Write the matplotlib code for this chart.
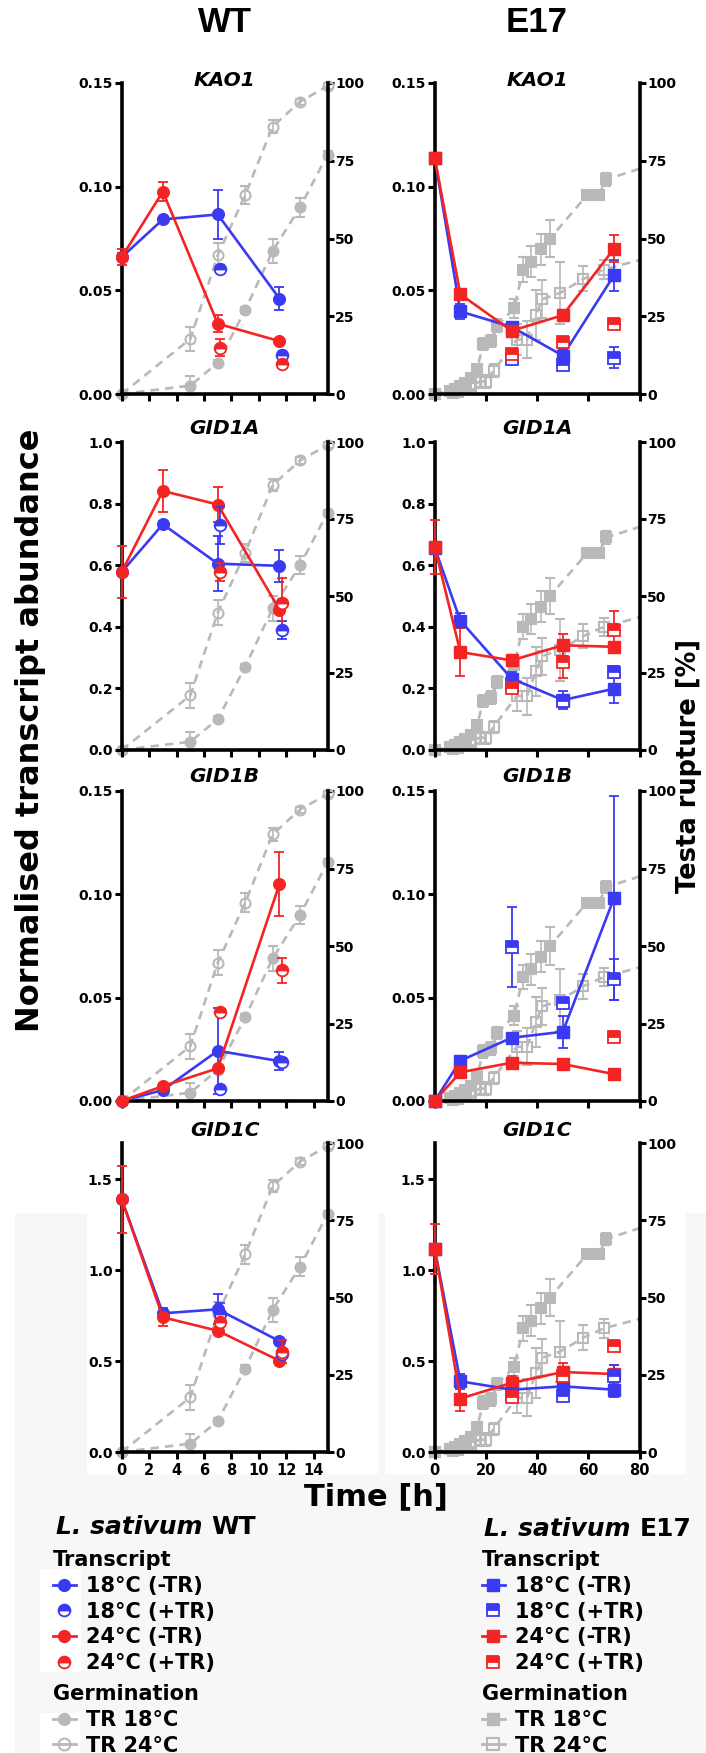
import numpy as np
import matplotlib
matplotlib.use('Agg')
import matplotlib.pyplot as plt
from matplotlib.lines import Line2D
from matplotlib.patches import Rectangle

# ---------------- data ----------------
genes = ['KAO1', 'GID1A', 'GID1B', 'GID1C']
ytop = [0.15, 1.0, 0.15, 1.7]
yticks = [[0, 0.05, 0.10, 0.15], [0, 0.2, 0.4, 0.6, 0.8, 1.0],
          [0, 0.05, 0.10, 0.15], [0, 0.5, 1.0, 1.5]]
ytick_labels = [['0.00', '0.05', '0.10', '0.15'], ['0.0', '0.2', '0.4', '0.6', '0.8', '1.0'],
                ['0.00', '0.05', '0.10', '0.15'], ['0.0', '0.5', '1.0', '1.5']]
right_ticks = [0, 25, 50, 75, 100]

# WT (time in h)
wt_t = [0, 3, 7, 11.5]
wt_t_tr = [7.2, 11.7]
wt_b_minus = [[0.066, 0.0842, 0.0866, 0.046], [0.578, 0.733, 0.605, 0.598],
              [0.0, 0.0053, 0.0243, 0.0193], [1.39, 0.763, 0.785, 0.61]]
wt_b_minus_err = [[0.002, 0.001, 0.012, 0.0055], [0.01, 0.01, 0.09, 0.052],
                  [0.0, 0.0005, 0.0207, 0.0042], [0.02, 0.03, 0.083, 0.01]]
wt_r_minus = [[0.066, 0.0976, 0.0339, 0.0255], [0.578, 0.841, 0.797, 0.456],
              [0.0, 0.0072, 0.0158, 0.105], [1.39, 0.741, 0.667, 0.502]]
wt_r_minus_err = [[0.004, 0.0045, 0.004, 0.001], [0.084, 0.068, 0.057, 0.01],
                  [0.0, 0.0005, 0.001, 0.0155], [0.185, 0.05, 0.01, 0.01]]
wt_b_plus = [[0.0605, 0.0189], [0.73, 0.389], [0.0058, 0.019], [0.76, 0.54]]
wt_b_plus_err = [[0.001, 0.001], [0.06, 0.03], [0.001, 0.002], [0.06, 0.01]]
wt_r_plus = [[0.0223, 0.0145], [0.578, 0.476], [0.043, 0.0633], [0.713, 0.551]]
wt_r_plus_err = [[0.004, 0.001], [0.03, 0.081], [0.001, 0.006], [0.01, 0.063]]

wt_germ_t = [0, 5, 7, 9, 11, 13, 15]
wt_tr18 = [0, 2.7, 10, 27, 46, 60, 77]
wt_tr18_err = [0, 3, 1, 1, 4, 3, 1]
wt_tr24 = [0, 17.7, 44.6, 64, 86, 94, 99]
wt_tr24_err = [0, 4, 4, 3, 2, 1, 1]

# E17 (time in h)
e_t = [0, 10, 30, 50, 70]
e_t_tr = [30, 50, 70]
e_b_minus = [[0.114, 0.0398, 0.0324, 0.0185, 0.0573], [0.657, 0.42, 0.232, 0.162, 0.199],
             [0.0, 0.0195, 0.0306, 0.0335, 0.0983], [1.119, 0.389, 0.343, 0.361, 0.343]]
e_b_minus_err = [[0.001, 0.0035, 0.002, 0.003, 0.0075], [0.01, 0.025, 0.02, 0.03, 0.045],
                 [0.0, 0.001, 0.001, 0.0078, 0.0495], [0.01, 0.04, 0.02, 0.02, 0.04]]
e_r_minus = [[0.114, 0.0481, 0.0305, 0.038, 0.0701], [0.66, 0.318, 0.291, 0.34, 0.335],
             [0.0, 0.0139, 0.0185, 0.0179, 0.0130], [1.119, 0.294, 0.38, 0.44, 0.429]]
e_r_minus_err = [[0.001, 0.001, 0.001, 0.002, 0.0064], [0.088, 0.077, 0.01, 0.035, 0.01],
                 [0.0, 0.0, 0.0, 0.0, 0.0], [0.138, 0.07, 0.04, 0.05, 0.05]]
e_b_plus = [[0.0168, 0.014, 0.0176], [0.215, 0.16, 0.253], [0.0746, 0.0475, 0.0588], [0.32, 0.306, 0.417]]
e_b_plus_err = [[0.001, 0.002, 0.0049], [0.02, 0.02, 0.02], [0.0192, 0.001, 0.01], [0.02, 0.02, 0.06]]
e_r_plus = [[0.0193, 0.0249, 0.0337], [0.2, 0.285, 0.388], [np.nan, np.nan, 0.031], [0.301, 0.42, 0.582]]
e_r_plus_err = [[0.001, 0.001, 0.001], [0.01, 0.05, 0.062], [0.0, 0.0, 0.001], [0.02, 0.02, 0.02]]

e_germ18_t = [0, 6, 8, 10, 12, 14, 16.5, 19, 22, 24.5, 31, 34.5, 37.5, 41.5, 45, 59.5, 64, 67, 84]
e_tr18 = [0, 1, 1.5, 2.5, 3.5, 5, 8, 16, 17, 22, 27.5, 40, 42.5, 46.5, 50, 64, 64, 69, 73.5]
e_tr18_err = [0, 0.5, 0.5, 1, 1, 1, 1.5, 2, 2, 2, 3, 4, 5, 5, 6, 1, 1, 2, 0]
e_germ24_t = [0, 7, 9, 12, 14, 17.5, 20, 23, 32, 36, 39.5, 42, 49, 58, 66, 84]
e_tr24 = [0, 0.3, 0.8, 1.5, 2.5, 4, 4, 7.5, 17.5, 17.5, 25.5, 30.5, 32.5, 37, 40, 44]
e_tr24_err = [0, 0.5, 0.5, 1, 1, 2, 2, 2, 5, 6, 8, 6, 10, 4, 3, 0]

# ---------------- style ----------------
W, H = 706, 1753
BLUE = '#3a3af2'
RED = '#f42424'
GREY = '#b9b9b9'
plt.rcParams['font.family'] = ['DejaVu Sans']
plt.rcParams['font.weight'] = 'bold'

fig = plt.figure(figsize=(W / 100, H / 100), dpi=100)
fig.patch.set_facecolor('white')


def fx(px):
    return px / W


def fy(py):
    return 1 - py / H


def rect(x0, y0, x1, y1, color):
    fig.patches.append(Rectangle((fx(x0), fy(y1)), (x1 - x0) / W, (y1 - y0) / H,
                                 transform=fig.transFigure, facecolor=color,
                                 edgecolor='none', zorder=-10))


# light grey background region of the original
rect(15, 1213, 706, 1753, '#f7f7f7')
rect(87, 1213, 378, 1474, 'white')
rect(385, 1213, 686, 1474, 'white')
rect(40, 1569, 81, 1672, 'white')
rect(40, 1713, 80, 1753, 'white')

col_left = [121.7, 434.7]
col_right = [327.5, 639.7]
row_top = [83, 442, 791, 1143]
row_bot = [394, 750, 1101, 1452]
title_gap = [3, 14, 14, 13]

SPW = 2.6


def unclip(cont):
    for a in cont.get_children():
        a.set_clip_on(False)


def panel(col, row):
    l, r = col_left[col], col_right[col]
    top, bot = row_top[row], row_bot[row]
    ax = fig.add_axes([fx(l), fy(bot), (r - l) / W, (bot - top) / H])
    ax2 = ax.twinx()
    ax.set_zorder(ax2.get_zorder() + 1)
    ax.patch.set_visible(False)
    ax2.patch.set_visible(False)

    if col == 0:
        xmax, xt = 15, np.arange(0, 15, 2)
        mk = 'o'
        t, ttr = wt_t, wt_t_tr
        bm, bme = wt_b_minus[row], wt_b_minus_err[row]
        rm, rme = wt_r_minus[row], wt_r_minus_err[row]
        bp, bpe = wt_b_plus[row], wt_b_plus_err[row]
        rp, rpe = wt_r_plus[row], wt_r_plus_err[row]
        g18t, g18, g18e = wt_germ_t, wt_tr18, wt_tr18_err
        g24t, g24, g24e = wt_germ_t, wt_tr24, wt_tr24_err
        ms = 8.4
    else:
        xmax, xt = 80, np.arange(0, 81, 20)
        mk = 's'
        t, ttr = e_t, e_t_tr
        bm, bme = e_b_minus[row], e_b_minus_err[row]
        rm, rme = e_r_minus[row], e_r_minus_err[row]
        bp, bpe = e_b_plus[row], e_b_plus_err[row]
        rp, rpe = e_r_plus[row], e_r_plus_err[row]
        g18t, g18, g18e = e_germ18_t, e_tr18, e_tr18_err
        g24t, g24, g24e = e_germ24_t, e_tr24, e_tr24_err
        ms = 8.0

    # germination (right axis)
    for gt, gv, ge, filled in [(g24t, g24, g24e, False), (g18t, g18, g18e, True)]:
        gt = np.asarray(gt, float)
        gv = np.asarray(gv, float)
        ge = np.asarray(ge, float)
        ax2.plot(gt, gv, ls=(0, (3.2, 2.3)), lw=1.9, color=GREY, zorder=1)
        inside = gt <= xmax
        c = ax2.errorbar(gt[inside], gv[inside], yerr=ge[inside], ls='none', marker=mk,
                         ms=7.2, color=GREY, mfc=GREY if filled else 'none', mec=GREY,
                         mew=1.5, capsize=3.5, elinewidth=1.2, capthick=1.2, zorder=2)
        unclip(c)
    ax2.set_ylim(0, 100)
    ax2.set_yticks(right_ticks)
    ax2.set_yticklabels([str(v) for v in right_ticks])

    # transcripts (left axis)
    for vals, errs, colr in [(bm, bme, BLUE), (rm, rme, RED)]:
        c = ax.errorbar(t, vals, yerr=errs, color=colr, marker=mk, ms=ms, lw=1.9,
                        capsize=3.5, elinewidth=1.3, capthick=1.3, zorder=4)
        unclip(c)
    for vals, errs, colr in [(bp, bpe, BLUE), (rp, rpe, RED)]:
        c = ax.errorbar(ttr, vals, yerr=errs, ls='none', color=colr, marker=mk, ms=ms,
                        fillstyle='top', mfc=colr, mfcalt='white', mec=colr, mew=1.3,
                        capsize=3.5, elinewidth=1.3, capthick=1.3, zorder=5)
        unclip(c)

    ax.set_xlim(0, xmax)
    ax.set_ylim(0, ytop[row])
    ax.set_xticks(xt)
    ax.set_yticks(yticks[row])
    ax.set_yticklabels(ytick_labels[row])
    if row == 3:
        ax.set_xticklabels([str(v) for v in xt])
    else:
        ax.set_xticklabels([])

    for a in (ax, ax2):
        a.spines['top'].set_visible(False)
    ax.spines['right'].set_visible(False)
    ax2.spines['left'].set_visible(False)
    ax2.spines['bottom'].set_visible(False)
    ax.spines['left'].set_linewidth(SPW)
    ax.spines['bottom'].set_linewidth(SPW)
    ax2.spines['right'].set_linewidth(SPW)
    ax.tick_params(axis='y', direction='out', length=5, width=2.2, pad=1.5, labelsize=10)
    ax.tick_params(axis='x', direction='out', length=5, width=2.2, pad=3, labelsize=10.5)
    ax2.tick_params(axis='y', direction='out', length=4, width=2.2, pad=1.5, labelsize=10)
    for lab in ax.get_xticklabels() + ax.get_yticklabels() + ax2.get_yticklabels():
        lab.set_fontweight('bold')

    fig.text(fx((l + r) / 2), fy(top - title_gap[row]), genes[row], ha='center',
             va='center', fontsize=14.5, fontweight='bold', fontstyle='italic')


for col in range(2):
    for row in range(4):
        panel(col, row)

# column headers
fig.text(fx(225), fy(22), 'WT', ha='center', va='center', fontsize=25,
         fontweight='bold', family='Liberation Sans')
fig.text(fx(537), fy(22), 'E17', ha='center', va='center', fontsize=25,
         fontweight='bold', family='Liberation Sans')

# axis labels
fig.text(fx(15), fy(730), 'Normalised transcript abundance', rotation=90, ha='left',
         va='center', fontsize=23, fontweight='bold')
fig.text(fx(676.5), fy(766), 'Testa rupture [%]', rotation=90, ha='left',
         va='center', fontsize=18.5, fontweight='bold')
fig.text(fx(376), fy(1497), 'Time [h]', ha='center', va='center', fontsize=22,
         fontweight='bold')

# legends
fig.canvas.draw()
renderer = fig.canvas.get_renderer()


def header(x, y, rest):
    t1 = fig.text(fx(x), fy(y), 'L. sativum', ha='left', va='center', fontsize=18,
                  fontweight='bold', fontstyle='italic')
    bb = t1.get_window_extent(renderer)
    fig.text(bb.x1 / W + 9 / W, fy(y), rest, ha='left', va='center', fontsize=18,
             fontweight='bold')


header(56, 1527, 'WT')
header(484, 1529, 'E17')

lab_tr = ['18°C (-TR)', '18°C (+TR)', '24°C (-TR)', '24°C (+TR)']
lab_g = ['TR 18°C', 'TR 24°C']


def handles(mk):
    hs = []
    for colr in (BLUE, RED):
        hs.append(Line2D([], [], color=colr, marker=mk, ms=8.5, lw=2))
        hs.append(Line2D([], [], color=colr, marker=mk, ms=8.5, ls='none', fillstyle='top',
                         mfc=colr, mfcalt='white', mec=colr, mew=1.3))
    gh = [Line2D([], [], color=GREY, marker=mk, ms=8.5, lw=2),
          Line2D([], [], color=GREY, marker=mk, ms=8.5, lw=2, mfc='none', mec=GREY, mew=1.5)]
    return hs, gh


for x0, mk in [(53, 'o'), (482, 's')]:
    hs, gh = handles(mk)
    common = dict(loc='upper left', bbox_transform=fig.transFigure, frameon=False,
                  prop=dict(weight='bold', size=15), alignment='left',
                  title_fontproperties=dict(weight='bold', size=15),
                  handlelength=1.1, handletextpad=0.5, labelspacing=0.28,
                  borderpad=0, borderaxespad=0)
    fig.legend(hs, lab_tr, title='Transcript', bbox_to_anchor=(fx(x0), fy(1550)), **common)
    fig.legend(gh, lab_g, title='Germination', bbox_to_anchor=(fx(x0), fy(1684)), **common)

fig.savefig('out.png', dpi=100)
